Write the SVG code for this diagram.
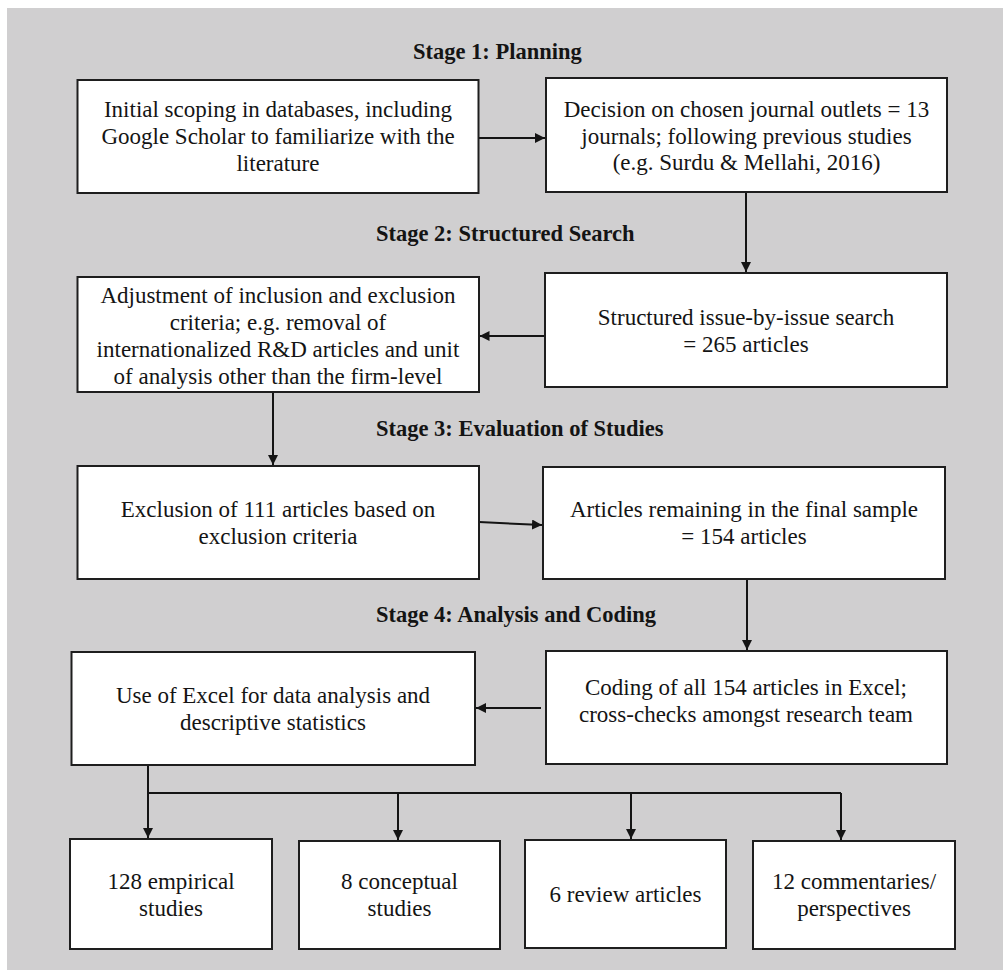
<svg xmlns="http://www.w3.org/2000/svg" width="1003" height="970" viewBox="0 0 1003 970">
<style>
.box{fill:#ffffff;stroke:#1e1e1e;stroke-width:2}
.t{font-family:"Liberation Serif","Times New Roman",serif;font-size:23px;fill:#141414;text-anchor:middle}
.h{font-family:"Liberation Serif","Times New Roman",serif;font-size:22.5px;font-weight:bold;fill:#141414}
.c{fill:none;stroke:#141414;stroke-width:2}
</style>
<defs>
<marker id="arr" viewBox="0 0 10 10" refX="10" refY="5" markerWidth="10" markerHeight="10" markerUnits="userSpaceOnUse" orient="auto">
<path d="M0,0 L10,5 L0,10 z" fill="#141414"/>
</marker>
</defs>
<rect x="0" y="0" width="1003" height="970" fill="#ffffff"/>
<rect x="7" y="8" width="996" height="962" fill="#d0cfd0"/>

<g id="headings">
<text class="h" x="413" y="59">Stage 1: Planning</text>
<text class="h" x="376" y="241">Stage 2: Structured Search</text>
<text class="h" x="376" y="436">Stage 3: Evaluation of Studies</text>
<text class="h" x="376" y="622">Stage 4: Analysis and Coding</text>
</g>

<g id="connectors">
<line class="c" x1="478.5" y1="138" x2="545" y2="138" marker-end="url(#arr)"/>
<line class="c" x1="746" y1="192" x2="746" y2="272" marker-end="url(#arr)"/>
<line class="c" x1="545" y1="336" x2="479.5" y2="336" marker-end="url(#arr)"/>
<line class="c" x1="273" y1="392" x2="273" y2="465" marker-end="url(#arr)"/>
<line class="c" x1="479" y1="522" x2="542" y2="525" marker-end="url(#arr)"/>
<line class="c" x1="747" y1="579" x2="747" y2="650" marker-end="url(#arr)"/>
<line class="c" x1="541" y1="708" x2="476" y2="708" marker-end="url(#arr)"/>
<polyline class="c" points="148,765 148,793 841,793"/>
<line class="c" x1="148" y1="793" x2="148" y2="838" marker-end="url(#arr)"/>
<line class="c" x1="398" y1="793" x2="398" y2="840" marker-end="url(#arr)"/>
<line class="c" x1="631" y1="793" x2="631" y2="839" marker-end="url(#arr)"/>
<line class="c" x1="841" y1="793" x2="841" y2="840" marker-end="url(#arr)"/>
</g>

<g id="n1">
<rect class="box" x="77.5" y="80" width="401" height="113"/>
<text class="t" x="278" y="117">Initial scoping in databases, including</text>
<text class="t" x="278" y="144">Google Scholar to familiarize with the</text>
<text class="t" x="278" y="171">literature</text>
</g>
<g id="n2">
<rect class="box" x="546" y="78" width="401" height="114"/>
<text class="t" x="746.5" y="117">Decision on chosen journal outlets = 13</text>
<text class="t" x="746.5" y="144">journals; following previous studies</text>
<text class="t" x="746.5" y="170">(e.g. Surdu &amp; Mellahi, 2016)</text>
</g>
<g id="n3">
<rect class="box" x="545" y="273" width="402" height="114"/>
<text class="t" x="746" y="325">Structured issue-by-issue search</text>
<text class="t" x="746" y="352">= 265 articles</text>
</g>
<g id="n4">
<rect class="box" x="77.5" y="277" width="401.5" height="115"/>
<text class="t" x="278" y="303">Adjustment of inclusion and exclusion</text>
<text class="t" x="278" y="330">criteria; e.g. removal of</text>
<text class="t" x="278" y="357">internationalized R&amp;D articles and unit</text>
<text class="t" x="278" y="384">of analysis other than the firm-level</text>
</g>
<g id="n5">
<rect class="box" x="77.5" y="466" width="401.5" height="113"/>
<text class="t" x="278" y="517">Exclusion of 111 articles based on</text>
<text class="t" x="278" y="544">exclusion criteria</text>
</g>
<g id="n6">
<rect class="box" x="543" y="467" width="402" height="112"/>
<text class="t" x="744" y="517">Articles remaining in the final sample</text>
<text class="t" x="744" y="544">= 154 articles</text>
</g>
<g id="n7">
<rect class="box" x="546" y="651" width="401" height="113"/>
<text class="t" x="746" y="695">Coding of all 154 articles in Excel;</text>
<text class="t" x="746" y="722">cross-checks amongst research team</text>
</g>
<g id="n8">
<rect class="box" x="71.5" y="652" width="403.5" height="113"/>
<text class="t" x="273" y="703">Use of Excel for data analysis and</text>
<text class="t" x="273" y="730">descriptive statistics</text>
</g>
<g id="n9">
<rect class="box" x="70" y="839" width="202" height="110"/>
<text class="t" x="171" y="889">128 empirical</text>
<text class="t" x="171" y="916">studies</text>
</g>
<g id="n10">
<rect class="box" x="299" y="841" width="201" height="108"/>
<text class="t" x="399.5" y="889">8 conceptual</text>
<text class="t" x="399.5" y="916">studies</text>
</g>
<g id="n11">
<rect class="box" x="525" y="840" width="201" height="108"/>
<text class="t" x="625.5" y="902">6 review articles</text>
</g>
<g id="n12">
<rect class="box" x="753" y="841" width="202" height="108"/>
<text class="t" x="854" y="889">12 commentaries/</text>
<text class="t" x="854" y="916">perspectives</text>
</g>
</svg>
